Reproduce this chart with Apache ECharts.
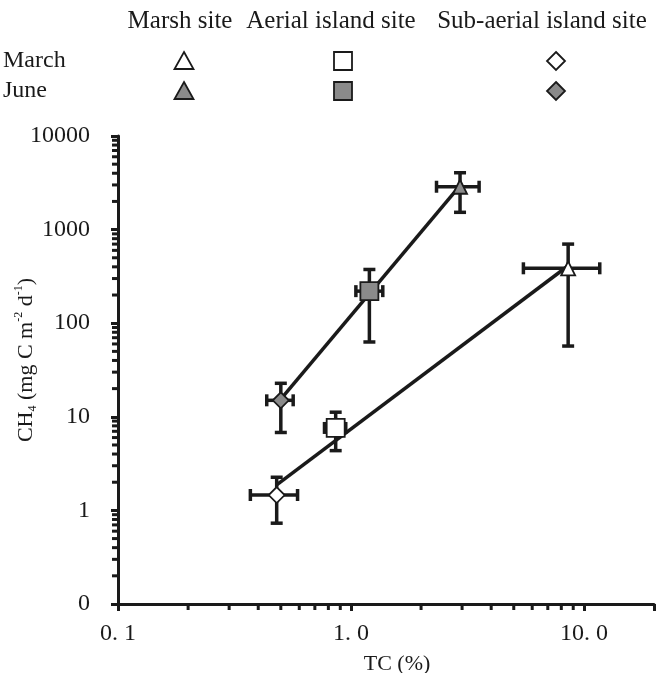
<!DOCTYPE html>
<html><head><meta charset="utf-8">
<script src="https://cdn.jsdelivr.net/npm/echarts@6/dist/echarts.min.js"></script>
<style>html,body{margin:0;padding:0;background:#fff}#c{width:657px;height:673px}</style>
</head><body><div id="c"></div>
<script>
// ---- data ----
const sites = ['Marsh site', 'Aerial island site', 'Sub-aerial island site'];
const months = ['March', 'June'];
const siteSymbols = ['triangle', 'rect', 'diamond'];

// March (order: marsh, aerial, sub-aerial)
const marchTC      = [8.56, 0.86, 0.48];
const marchTCLow   = [5.5, 0.77, 0.37];
const marchTCHigh  = [11.7, 0.95, 0.59];
const marchCH4     = [386, 7.6, 1.46];
const marchCH4Low  = [57, 4.35, 0.73];
const marchCH4High = [700, 11.2, 2.26];

// June
const juneTC      = [2.94, 1.2, 0.5];
const juneTCLow   = [2.33, 1.05, 0.435];
const juneTCHigh  = [3.55, 1.37, 0.565];
const juneCH4     = [2870, 220, 15];
const juneCH4Low  = [1530, 63, 6.8];
const juneCH4High = [4050, 375, 22.8];

const xTickValues = [0.1, 1, 10];
const xTickLabels = ['0. 1', '1. 0', '10. 0'];
const yTickValues = [0.1, 1, 10, 100, 1000, 10000];
const yTickLabels = ['0', '1', '10', '100', '1000', '10000'];

// ---- helpers ----
const FONT = 'Liberation Serif';
const INK = '#1a1a1a';
const GRAY = '#8a8a8a';

function labelFor(v, vals, labs) {
  for (let i = 0; i < vals.length; i++) {
    if (Math.abs(Math.log10(v) - Math.log10(vals[i])) < 1e-6) return labs[i];
  }
  return '';
}
function fitLine(xs, ys) {
  const lx = xs.map(Math.log10), ly = ys.map(Math.log10);
  const n = lx.length;
  const mx = lx.reduce((a, b) => a + b, 0) / n, my = ly.reduce((a, b) => a + b, 0) / n;
  let sxy = 0, sxx = 0;
  for (let i = 0; i < n; i++) { sxy += (lx[i] - mx) * (ly[i] - my); sxx += (lx[i] - mx) ** 2; }
  const b = sxy / sxx, a = my - b * mx;
  const x0 = Math.min(...xs), x1 = Math.max(...xs);
  return [[x0, Math.pow(10, a + b * Math.log10(x0))], [x1, Math.pow(10, a + b * Math.log10(x1))]];
}
function errData(x, xl, xh, y, yl, yh) {
  return x.map((v, i) => [v, y[i], xl[i], xh[i], yl[i], yh[i]]);
}
function minorTicks(kFrom, kTo) {
  const out = [];
  for (let k = kFrom; k <= kTo; k++) for (let m = 2; m <= 9; m++) out.push([m * Math.pow(10, k)]);
  return out;
}

const CAP = 6;
function renderErr(params, api) {
  const x = api.value(0), y = api.value(1);
  const c = api.coord([x, y]);
  const lo = api.coord([x, api.value(4)]), hi = api.coord([x, api.value(5)]);
  const l = api.coord([api.value(2), y]), r = api.coord([api.value(3), y]);
  const st = { stroke: INK, lineWidth: 3.5 };
  const L = (x1, y1, x2, y2) => ({ type: 'line', shape: { x1, y1, x2, y2 }, style: st });
  return { type: 'group', children: [
    L(c[0], lo[1], c[0], hi[1]),
    L(c[0] - CAP, lo[1], c[0] + CAP, lo[1]),
    L(c[0] - CAP, hi[1], c[0] + CAP, hi[1]),
    L(l[0], c[1], r[0], c[1]),
    L(l[0], c[1] - CAP, l[0], c[1] + CAP),
    L(r[0], c[1] - CAP, r[0], c[1] + CAP)
  ]};
}
function renderXMinor(params, api) {
  const p = api.coord([api.value(0), 0.1]);
  return { type: 'line', shape: { x1: p[0], y1: p[1], x2: p[0], y2: p[1] + 6 }, style: { stroke: INK, lineWidth: 3 } };
}
function renderYMinor(params, api) {
  const p = api.coord([0.1, api.value(0)]);
  return { type: 'line', shape: { x1: p[0] - 6, y1: p[1], x2: p[0], y2: p[1] }, style: { stroke: INK, lineWidth: 3 } };
}

// ---- legend (table layout) ----
const headerX = [180, 331, 542];
const symX = [184, 343, 556];
const rowY = [61, 91];
const legendGraphics = [];
sites.forEach((s, i) => legendGraphics.push({
  type: 'text', x: headerX[i], y: 21,
  style: { text: s, font: '25px "' + FONT + '"', fill: INK, align: 'center', verticalAlign: 'middle' }
}));
months.forEach((m, r) => {
  legendGraphics.push({ type: 'text', x: 3, y: rowY[r],
    style: { text: m, font: '24px "' + FONT + '"', fill: INK, align: 'left', verticalAlign: 'middle' } });
  const fill = r === 0 ? '#fff' : GRAY;
  const st = { fill, stroke: INK, lineWidth: 1.8 };
  legendGraphics.push({ type: 'polygon', x: symX[0], y: rowY[r], shape: { points: [[0, -9], [9.5, 8], [-9.5, 8]] }, style: st });
  legendGraphics.push({ type: 'rect', x: symX[1], y: rowY[r], shape: { x: -9, y: -9, width: 18, height: 18 }, style: st });
  legendGraphics.push({ type: 'polygon', x: symX[2], y: rowY[r], shape: { points: [[0, -9], [9, 0], [0, 9], [-9, 0]] }, style: st });
});

const chart = echarts.init(document.getElementById('c'), null, { renderer: 'canvas' });
const axisCommon = {
  type: 'log', logBase: 10,
  axisLine: { show: true, lineStyle: { color: INK, width: 3 } },
  axisTick: { show: true, inside: false, length: 7, lineStyle: { color: INK, width: 3 } },
  splitLine: { show: false },
  minorTick: { show: false }
};
chart.setOption({
  animation: false,
  backgroundColor: '#fff',
  grid: { left: 118, right: 3, top: 136, bottom: 69, containLabel: false, outerBoundsMode: 'none' },
  xAxis: Object.assign({}, axisCommon, {
    min: 0.1, max: 20,
    axisLabel: { show: true, margin: 18, color: INK, fontFamily: FONT, fontSize: 24,
      showMinLabel: true, showMaxLabel: true,
      formatter: v => labelFor(v, xTickValues, xTickLabels) }
  }),
  yAxis: Object.assign({}, axisCommon, {
    min: 0.1, max: 10000, splitNumber: 5,
    axisLabel: { show: true, margin: 28, color: INK, fontFamily: FONT, fontSize: 24,
      showMinLabel: true, showMaxLabel: true,
      formatter: v => labelFor(v, yTickValues, yTickLabels) }
  }),
  graphic: legendGraphics.concat([
    { type: 'text', x: 397, y: 664,
      style: { text: 'TC (%)', font: '22px "' + FONT + '"', fill: INK, align: 'center', verticalAlign: 'middle' } },
    { type: 'text', x: 26, y: 360, rotation: Math.PI / 2,
      style: { text: '{n|CH}{sub|4}{n| (mg C m}{sup|-2}{n| d}{sup|-1}{n|)}',
        align: 'center', verticalAlign: 'middle', fill: INK,
        rich: {
          n: { fontFamily: FONT, fontSize: 22, lineHeight: 26, fill: INK, color: INK },
          sub: { fontFamily: FONT, fontSize: 12, lineHeight: 12, verticalAlign: 'bottom', fill: INK, color: INK },
          sup: { fontFamily: FONT, fontSize: 12, lineHeight: 12, verticalAlign: 'top', fill: INK, color: INK }
        } } }
  ]),
  series: [
    { type: 'custom', name: 'xminor', renderItem: renderXMinor, data: minorTicks(-1, 0), silent: true, z: 1, clip: false },
    { type: 'custom', name: 'yminor', coordinateSystem: 'cartesian2d', renderItem: renderYMinor, data: minorTicks(-1, 3), silent: true, z: 1, clip: false,
      encode: { y: 0 } },
    { type: 'line', name: 'March fit', data: fitLine(marchTC, marchCH4), symbol: 'none', z: 2,
      lineStyle: { color: INK, width: 3.5 } },
    { type: 'line', name: 'June fit', data: fitLine(juneTC, juneCH4), symbol: 'none', z: 2,
      lineStyle: { color: INK, width: 3.5 } },
    { type: 'custom', name: 'March err', renderItem: renderErr, z: 3, clip: false,
      data: errData(marchTC, marchTCLow, marchTCHigh, marchCH4, marchCH4Low, marchCH4High) },
    { type: 'custom', name: 'June err', renderItem: renderErr, z: 3, clip: false,
      data: errData(juneTC, juneTCLow, juneTCHigh, juneCH4, juneCH4Low, juneCH4High) },
    { type: 'scatter', name: 'March', z: 4,
      data: marchTC.map((v, i) => [v, marchCH4[i]]),
      symbol: (val, p) => siteSymbols[p.dataIndex],
      symbolSize: (val, p) => [[14, 14], [18, 18], [16, 16]][p.dataIndex],
      itemStyle: { color: '#fff', borderColor: INK, borderWidth: 1.8, opacity: 1 } },
    { type: 'scatter', name: 'June', z: 4,
      data: juneTC.map((v, i) => [v, juneCH4[i]]),
      symbol: (val, p) => siteSymbols[p.dataIndex],
      symbolSize: (val, p) => [[14, 14], [18, 18], [16, 16]][p.dataIndex],
      itemStyle: { color: GRAY, borderColor: INK, borderWidth: 1.8, opacity: 1 } }
  ]
});
</script></body></html>
